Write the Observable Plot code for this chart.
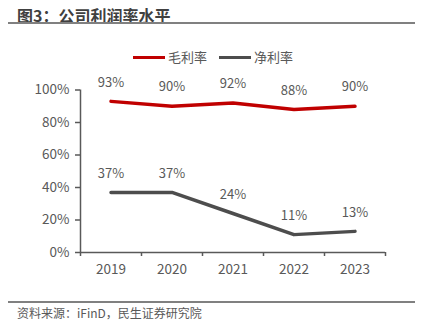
<!DOCTYPE html>
<html><head><meta charset="utf-8">
<script src="https://cdn.jsdelivr.net/npm/d3@7"></script>
<script src="https://cdn.jsdelivr.net/npm/@observablehq/plot@0.6"></script>
<style>
body{margin:0;background:#fff;font-family:"Noto Sans CJK SC","Noto Sans",sans-serif;}
#wrap{position:relative;width:425px;height:325px;overflow:hidden;}
.abs{position:absolute;white-space:nowrap;}
#title{left:17px;top:3px;font-size:16px;font-weight:bold;color:#404040;line-height:24px;}
.rule{left:8px;width:407px;height:2px;background:#808080;}
#legend{left:133px;top:47px;font-size:13px;color:#595959;line-height:20px;display:flex;align-items:center;}
.sw{display:inline-block;width:32px;height:3px;margin-right:3px;}
#caption{left:17px;top:303px;font-size:12px;color:#595959;line-height:20px;}
#chart{position:absolute;left:0;top:0;}
</style></head>
<body><div id="wrap">
<div id="title" class="abs">图3：公司利润率水平</div>
<div class="abs rule" style="top:22px"></div>
<div id="legend" class="abs"></div>
<div id="chart"></div>
<div class="abs rule" style="top:301px"></div>
<div id="caption" class="abs">资料来源：iFinD，民生证券研究院</div>
</div>
<script>
const years = [2019, 2020, 2021, 2022, 2023];
const grossMargin = [0.93, 0.90, 0.92, 0.88, 0.90];
const netMargin = [0.37, 0.37, 0.24, 0.11, 0.13];
const seriesNames = ["毛利率", "净利率"];
const seriesColors = ["#C00000", "#4D4D4D"];
const yTicks = [0, 0.2, 0.4, 0.6, 0.8, 1.0];

const data = [];
years.forEach((y, i) => {
  data.push({year: y, value: grossMargin[i], series: seriesNames[0]});
  data.push({year: y, value: netMargin[i], series: seriesNames[1]});
});
const bounds = [years[0] - 0.5, ...years.map(y => y + 0.5)];

const legend = document.getElementById("legend");
seriesNames.forEach((n, i) => {
  const s = document.createElement("span");
  s.style.display = "inline-flex"; s.style.alignItems = "center";
  s.style.marginRight = i === 0 ? "12px" : "0";
  s.innerHTML = `<span class="sw" style="background:${seriesColors[i]}"></span>${n}`;
  legend.appendChild(s);
});

const fmt = d3.format(".0%");
const chart = Plot.plot({
  width: 425, height: 325,
  marginLeft: 80, marginRight: 40, marginTop: 89.5, marginBottom: 73,
  style: {fontFamily: '"Noto Sans CJK SC","Noto Sans",sans-serif', fontSize: "13.5px", color: "#595959", background: "transparent"},
  x: {type: "linear", domain: [bounds[0], bounds[bounds.length - 1]]},
  y: {domain: [0, 1]},
  color: {domain: seriesNames, range: seriesColors},
  marks: [
    Plot.axisY({ticks: yTicks, tickFormat: fmt, tickSize: 5, tickPadding: 6, stroke: "#595959", strokeWidth: 1.5, fill: "#595959", label: null}),
    Plot.axisX({ticks: bounds, tickFormat: () => "", tickSize: 4, stroke: "#595959", strokeWidth: 1.5, label: null}),
    Plot.axisX({ticks: years, tickFormat: "d", tickSize: 0, tickPadding: 12, fill: "#595959", label: null}),
    Plot.ruleX([bounds[0]], {stroke: "#595959", strokeWidth: 1.5}),
    Plot.ruleY([0], {stroke: "#595959", strokeWidth: 1.5}),
    Plot.line(data, {x: "year", y: "value", z: "series", stroke: "series", strokeWidth: 3.5}),
    Plot.text(data, {x: "year", y: "value", text: d => fmt(d.value), dy: -19, fill: "#595959", fontSize: 13})
  ]
});
document.getElementById("chart").appendChild(chart);
</script>
</body></html>
